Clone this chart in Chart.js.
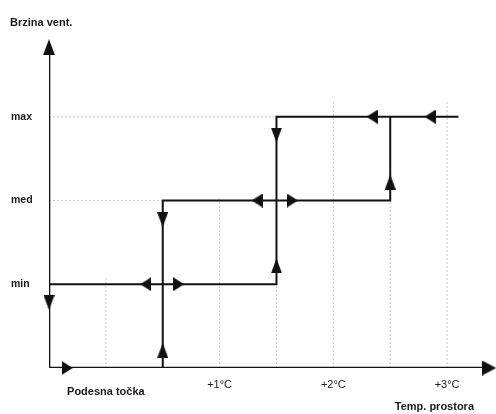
<!DOCTYPE html>
<html>
<head>
<meta charset="utf-8">
<script src="https://cdn.jsdelivr.net/npm/chart.js@4.4.1/dist/chart.umd.min.js"></script>
<style>
  html, body { margin: 0; padding: 0; background: #fff; }
</style>
</head>
<body>
<canvas id="fanChart" width="496" height="414"></canvas>
<script>
// fan speed levels (y) and room temperature steps (x)
const levelValues = [1, 2, 3];
const levelLabels = ['min', 'med', 'max'];
const tempValues = [0, 1, 2, 3];
const tempLabels = ['Podesna točka', '+1°C', '+2°C', '+3°C'];
const yTitle = 'Brzina vent.';
const xTitle = 'Temp. prostora';

// axis lines (drawn as data so the arrows sit on them)
const axisX = [-0.5, -0.5, 3.37];
const axisY = [3.8, 0, 0];

// switching path: min level, up to max
const lowPathX = [-0.5, 1.5, 1.5, 3.1];
const lowPathY = [1, 1, 3, 3];
// switching path: off, up to med, up to max
const highPathX = [0.5, 0.5, 2.5, 2.5];
const highPathY = [0, 2, 2, 3];

// dotted guide lines, from -> to
const guideFromX = [-0.5, -0.5, 0, 1, 1.5, 2, 2.5, 3];
const guideFromY = [3, 2, 0, 0, 0, 0, 0, 0];
const guideToX = [1.5, 0.5, 0, 1, 1.5, 2, 2.5, 3];
const guideToY = [3, 2, 1.07, 2.05, 1, 3.2, 2, 3.2];

// arrow heads on the path
const upX = [0.5, 1.5, 2.5];
const upY = [0.21, 1.22, 2.22];
const downX = [-0.5, 0.5, 1.5];
const downY = [0.78, 1.77, 2.78];
const rightX = [-0.34, 0.64, 1.64];
const rightY = [0, 1, 2];
const leftX = [0.35, 1.33, 2.34, 2.85];
const leftY = [1, 2, 3, 3];

const ink = '#111';
const FONT = '"Liberation Sans", Arial, sans-serif';
Chart.defaults.font.family = FONT;
Chart.defaults.color = '#1a1a1a';

function pts(xs, ys) {
  return xs.map((x, i) => ({ x: x, y: ys[i] }));
}

function guidePts() {
  const out = [];
  guideFromX.forEach((x, i) => {
    out.push({ x: x, y: guideFromY[i] });
    out.push({ x: guideToX[i], y: guideToY[i] });
    out.push({ x: x, y: null });
  });
  return out;
}

// filled triangle pointing up, w wide and h long
function makeArrow(w, h) {
  const c = document.createElement('canvas');
  c.width = w;
  c.height = h;
  const g = c.getContext('2d');
  g.fillStyle = ink;
  g.beginPath();
  g.moveTo(w / 2, 0);
  g.lineTo(w, h);
  g.lineTo(0, h);
  g.closePath();
  g.fill();
  return c;
}
const vArrow = makeArrow(11, 15);
const hArrow = makeArrow(14, 11);
const yHead = makeArrow(12, 16);
const xHead = makeArrow(15, 14);

function lineSet(data, width) {
  return {
    data: data, showLine: true, borderColor: ink, borderWidth: width,
    pointRadius: 0, borderJoinStyle: 'miter', borderCapStyle: 'butt', order: 1
  };
}

function arrowSet(data, img, rot) {
  return {
    data: data, showLine: false, pointStyle: img, rotation: rot,
    pointRadius: 5, clip: false, order: 0
  };
}

const axisTitles = {
  id: 'axisTitles',
  afterDraw(chart) {
    const ctx = chart.ctx;
    const x = chart.scales.x;
    ctx.save();
    ctx.fillStyle = '#1a1a1a';
    ctx.font = 'bold 11px ' + FONT;
    ctx.textBaseline = 'middle';
    ctx.textAlign = 'left';
    ctx.fillText(yTitle, 10, 23);
    ctx.textAlign = 'right';
    ctx.fillText(xTitle, x.right - 22, 407);
    ctx.restore();
  }
};

new Chart(document.getElementById('fanChart'), {
  type: 'scatter',
  data: {
    datasets: [
      {
        data: guidePts(), showLine: true, spanGaps: false, borderColor: '#c8c8c8',
        borderWidth: 1, borderDash: [2, 2], pointRadius: 0, order: 2
      },
      lineSet(pts(axisX, axisY), 2.6),
      lineSet(pts(lowPathX, lowPathY), 2),
      lineSet(pts(highPathX, highPathY), 2),
      arrowSet(pts(upX, upY), vArrow, 0),
      arrowSet(pts(downX, downY), vArrow, 180),
      arrowSet(pts(rightX, rightY), hArrow, 90),
      arrowSet(pts(leftX, leftY), hArrow, 270),
      arrowSet([{ x: -0.5, y: 3.83 }], yHead, 0),
      arrowSet([{ x: 3.37, y: 0 }], xHead, 90)
    ]
  },
  options: {
    responsive: false,
    animation: false,
    events: [],
    layout: { autoPadding: false, padding: { left: 11, top: 33, right: 0, bottom: 0 } },
    plugins: { legend: { display: false }, tooltip: { enabled: false } },
    scales: {
      x: {
        type: 'linear', min: -0.5, max: 3.43,
        grid: { display: false, drawTicks: false },
        border: { display: false },
        afterBuildTicks: (s) => { s.ticks = tempValues.map(v => ({ value: v })); },
        afterFit: (s) => { s.height = 46; s.paddingLeft = 0; s.paddingRight = 0; },
        ticks: {
          autoSkip: false, maxRotation: 0, minRotation: 0, padding: 10,
          color: '#1a1a1a',
          font: (c) => c.tick && c.tick.value === 0
            ? { size: 11, weight: 'bold', lineHeight: 0.85 }
            : { size: 11, lineHeight: 1.2 },
          callback: (v) => {
            const i = tempValues.indexOf(v);
            return i === 0 ? ['', tempLabels[0]] : tempLabels[i];
          }
        }
      },
      y: {
        type: 'linear', min: 0, max: 4,
        grid: { display: false, drawTicks: false },
        border: { display: false },
        afterBuildTicks: (s) => { s.ticks = levelValues.map(v => ({ value: v })); },
        afterFit: (s) => { s.width = 38; s.paddingTop = 0; s.paddingBottom = 0; },
        ticks: {
          autoSkip: false, crossAlign: 'far', color: '#1a1a1a',
          font: { size: 10.5, weight: 'bold' },
          callback: (v) => levelLabels[levelValues.indexOf(v)]
        }
      }
    }
  },
  plugins: [axisTitles]
});
</script>
</body>
</html>
